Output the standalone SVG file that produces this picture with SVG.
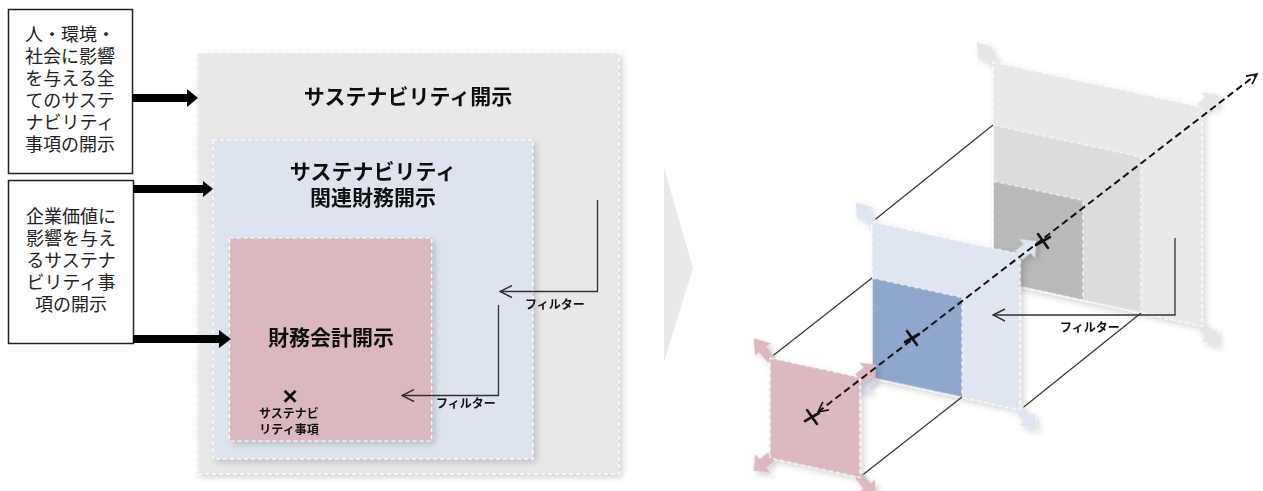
<svg xmlns="http://www.w3.org/2000/svg" xmlns:xlink="http://www.w3.org/1999/xlink" width="1263" height="491" viewBox="0 0 1263 491">
<style>
.box{fill:#fff;stroke:#222;stroke-width:1.5}
.bt{font-family:'Noto Sans CJK JP','Noto Sans CJK SC',sans-serif;font-size:18px;fill:#222;text-anchor:middle}
.tt{font-family:'Noto Sans CJK JP','Noto Sans CJK SC',sans-serif;font-size:21px;font-weight:bold;fill:#111;text-anchor:middle}
.st{font-family:'Noto Sans CJK JP','Noto Sans CJK SC',sans-serif;font-size:12px;font-weight:bold;fill:#111}
.dash{fill:none;stroke:#fff;stroke-width:1.2;stroke-dasharray:4 3}
.conn{fill:none;stroke:#333;stroke-width:1.3}
.pl{fill:none;stroke:#333;stroke-width:1.2}
.xm{fill:none;stroke:#111;stroke-width:2.6;stroke-linecap:round}
.big{fill:#000}
</style>
<defs>
<filter id="sh" x="-10%" y="-10%" width="125%" height="125%">
<feDropShadow dx="3" dy="3" stdDeviation="3" flood-color="#000" flood-opacity="0.18"/>
</filter>
<marker id="oa" viewBox="0 0 12 12" refX="11" refY="6" markerWidth="12" markerHeight="12" markerUnits="userSpaceOnUse" orient="auto-start-reverse">
<path d="M1,1 L11,6 L1,11" fill="none" stroke="#111" stroke-width="1.6"/>
</marker>
<marker id="fa" viewBox="0 0 14 14" refX="13" refY="7" markerWidth="14" markerHeight="14" markerUnits="userSpaceOnUse" orient="auto">
<path d="M1,1 L13,7 L1,13" fill="none" stroke="#333" stroke-width="1.4"/>
</marker>
<path id="ca" d="M-2,-5 L10,-5 L10,-11 L23,0 L10,11 L10,5 L-2,5 Z"/>
</defs>

<!-- left source boxes -->
<g id="node-all">
<rect class="box" x="8.5" y="9.5" width="124" height="164"/>
<text class="bt" x="70" y="41">人・環境・</text>
<text class="bt" x="70" y="63">社会に影響</text>
<text class="bt" x="70" y="85">を与える全</text>
<text class="bt" x="70" y="107">てのサステ</text>
<text class="bt" x="70" y="129">ナビリティ</text>
<text class="bt" x="70" y="151">事項の開示</text>
</g>
<g id="node-enterprise">
<rect class="box" x="8.5" y="180.5" width="125" height="163"/>
<text class="bt" x="71" y="223">企業価値に</text>
<text class="bt" x="71" y="245">影響を与え</text>
<text class="bt" x="71" y="267">るサステナ</text>
<text class="bt" x="71" y="289">ビリティ事</text>
<text class="bt" x="71" y="311">項の開示</text>
</g>

<!-- nested disclosure boxes -->
<g id="node-sustainability" filter="url(#sh)">
<rect x="197" y="53" width="422" height="421" fill="#e8e8e8"/>
<rect class="dash" x="197" y="53" width="422" height="421"/>
<text class="tt" x="408" y="104">サステナビリティ開示</text>
</g>
<g id="node-related" filter="url(#sh)">
<rect x="213" y="140" width="320" height="319" fill="#dee4ef"/>
<rect class="dash" x="213" y="140" width="320" height="319"/>
<text class="tt" x="373" y="179">サステナビリティ</text>
<text class="tt" x="373" y="205">関連財務開示</text>
</g>
<g id="node-financial" filter="url(#sh)">
<rect x="229.5" y="238" width="202" height="203" fill="#dbb8bf"/>
<rect class="dash" x="229.5" y="238" width="202" height="203"/>
<text class="tt" x="331" y="345">財務会計開示</text>
<text x="290" y="405" style="font-family:'Liberation Sans',sans-serif;font-size:26px;font-weight:bold;fill:#111;text-anchor:middle">×</text>
<text class="st" x="289" y="418" text-anchor="middle">サステナビ</text>
<text class="st" x="289" y="434" text-anchor="middle">リティ事項</text>
</g>

<!-- chevron -->
<g id="node-chevron">
<polygon points="664,168 693,268 664,362" fill="#e9e9e9"/>
</g>

<!-- 3D panels -->
<g id="node-panel-gray" filter="url(#sh)">
<g transform="matrix(1,0.216,0,1,993,62)" fill="#e6e6e6">
<use href="#ca" transform="rotate(-135)"/>
<use href="#ca" transform="translate(209,0) rotate(-45)"/>
<use href="#ca" transform="translate(209,219) rotate(45)"/>
<rect width="209" height="219" fill="#e9e9e9"/>
<rect y="63" width="148" height="156" fill="#dcdcdc"/>
<rect y="119" width="90" height="100" fill="#b9b9b9"/>
<rect class="dash" width="209" height="219"/>
<rect class="dash" y="63" width="148" height="156"/>
<rect class="dash" y="119" width="90" height="100"/>
</g>
</g>

<g id="connectors-back">
<line class="pl" x1="872" y1="222" x2="993" y2="125"/>
<line class="pl" x1="1020" y1="410" x2="1141" y2="313"/>
</g>

<g id="node-panel-blue" filter="url(#sh)">
<g transform="matrix(1,0.216,0,1,872,222)" fill="#dfe5f1">
<use href="#ca" transform="rotate(-135)"/>
<use href="#ca" transform="translate(148,0) rotate(-45)"/>
<use href="#ca" transform="translate(148,156) rotate(45)"/>
<use href="#ca" transform="translate(0,156) rotate(135)"/>
<rect width="148" height="156"/>
<rect y="56" width="90" height="100" fill="#8fa6cd"/>
<rect class="dash" width="148" height="156"/>
<rect class="dash" y="56" width="90" height="100"/>
</g>
</g>

<g id="connectors-front">
<line class="pl" x1="770" y1="358" x2="872" y2="278"/>
<line class="pl" x1="860" y1="477" x2="962" y2="397"/>
</g>

<g id="node-panel-pink" filter="url(#sh)">
<g transform="matrix(1,0.216,0,1,770,358)" fill="#dcb9c0">
<use href="#ca" transform="rotate(-135)"/>
<use href="#ca" transform="translate(90,0) rotate(-45)"/>
<use href="#ca" transform="translate(90,100) rotate(45)"/>
<use href="#ca" transform="translate(0,100) rotate(135)"/>
<rect width="90" height="100"/>
<rect class="dash" width="90" height="100"/>
</g>
</g>

<!-- connectors -->
<g id="connectors">
<polygon class="big" points="132,94 187,94 187,89 198,98 187,107 187,102 132,102"/>
<polygon class="big" points="133,185 203,185 203,181 213,189 203,197 203,193 133,193"/>
<polygon class="big" points="133,335 219,335 219,330 231,339 219,348 219,343 133,343"/>
<polyline class="conn" points="597.5,200 597.5,291.5 500,291.5" marker-end="url(#fa)"/>
<text class="st" x="525" y="309">フィルター</text>
<polyline class="conn" points="498.5,305 498.5,395.5 402,395.5" marker-end="url(#fa)"/>
<text class="st" x="436" y="408">フィルター</text>
<line x1="818" y1="412" x2="1257" y2="74" fill="none" stroke="#111" stroke-width="2" stroke-dasharray="7 4" marker-start="url(#oa)" marker-end="url(#oa)"/>
<path class="xm" d="M807,410 L817,424 M819,413 L805,421"/>
<path class="xm" d="M907,331 L917,345 M919,334 L905,342"/>
<path class="xm" d="M1038,234 L1048,248 M1050,237 L1036,245"/>
<polyline class="conn" points="1175,238 1175,315 993,315" marker-end="url(#fa)"/>
<text class="st" x="1060" y="332">フィルター</text>
</g>
</svg>
